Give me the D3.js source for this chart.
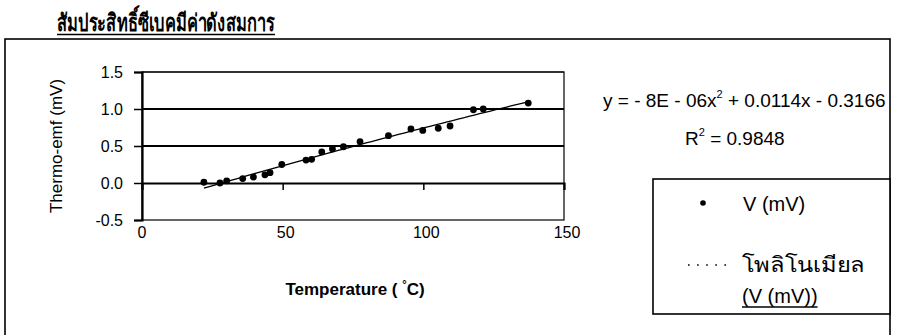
<!DOCTYPE html>
<html>
<head>
<meta charset="utf-8">
<script src="https://cdn.jsdelivr.net/npm/d3@7"></script>
<style>
  html, body { margin: 0; padding: 0; background: #fff; }
  svg { display: block; }
  text { font-family: "Liberation Sans", Arial, "Noto Sans", sans-serif; fill: #000; }
</style>
</head>
<body>
<svg id="chart" width="897" height="335"></svg>
<script>
// Measured Seebeck data: temperature (°C) and thermo-emf (mV)
const temperature = [22.0, 27.7, 30.1, 35.8, 39.6, 43.7, 45.5, 49.7, 58.3, 60.3, 63.9, 67.7, 71.6, 77.5, 87.6, 95.6, 99.8, 105.3, 109.5, 117.8, 121.3, 137.3];
const voltage     = [0.01, 0.00, 0.03, 0.06, 0.08, 0.11, 0.14, 0.25, 0.31, 0.32, 0.42, 0.46, 0.49, 0.56, 0.64, 0.73, 0.71, 0.74, 0.77, 0.99, 1.00, 1.08];

// Second-order polynomial trendline coefficients (a·x² + b·x + c) and fit quality
const fitCoefficients = [-8e-6, 0.0114, -0.3166];
const fitRSquared = 0.9848;

// Axis ticks
const xTicks = [0, 50, 100, 150];
const yTicks = [-0.5, 0.0, 0.5, 1.0, 1.5];
const gridValues = [0.5, 1.0, 1.5];

const thaiFont = "'Noto Sans Thai', 'Noto Sans', 'Liberation Sans', sans-serif";
const svg = d3.select("#chart");

// Outer frame and heading
svg.append("rect")
  .attr("x", 5).attr("y", 39).attr("width", 885).attr("height", 330)
  .attr("fill", "none").attr("stroke", "#000").attr("stroke-width", 1.6);

svg.append("text")
  .attr("x", 57).attr("y", 31)
  .attr("font-family", thaiFont)
  .attr("font-size", 24).attr("font-weight", "bold")
  .attr("textLength", 218).attr("lengthAdjust", "spacingAndGlyphs")
  .text("สัมประสิทธิ์ซีเบคมีค่าดังสมการ");
svg.append("line")
  .attr("x1", 57).attr("x2", 275)
  .attr("y1", 34.5).attr("y2", 34.5)
  .attr("stroke", "#000").attr("stroke-width", 1.6);

// Plot area
const plot = { left: 142, right: 564, top: 72, bottom: 220 };
const x = d3.scaleLinear().domain([0, 150]).range([plot.left, plot.right]);
const y = d3.scaleLinear().domain([-0.5, 1.5]).range([plot.bottom, plot.top]);

// Plot area border
svg.append("rect")
  .attr("x", plot.left).attr("y", plot.top)
  .attr("width", plot.right - plot.left).attr("height", plot.bottom - plot.top)
  .attr("fill", "none").attr("stroke", "#000").attr("stroke-width", 1.2);

// Major gridlines
svg.append("g").selectAll("line").data(gridValues).join("line")
  .attr("x1", plot.left).attr("x2", plot.right)
  .attr("y1", d => y(d)).attr("y2", d => y(d))
  .attr("stroke", "#000").attr("stroke-width", d => d === 1.5 ? 1.1 : 1.8);

// Value axis (left)
const yAxis = svg.append("g")
  .attr("transform", `translate(${plot.left},0)`)
  .call(d3.axisLeft(y).tickValues(yTicks).tickSize(8).tickPadding(11));
yAxis.select(".domain").attr("stroke-width", 2.2);
yAxis.selectAll(".tick line").attr("stroke-width", 1.5);
yAxis.selectAll(".tick text")
  .attr("font-size", 16).attr("font-family", "'Liberation Sans', Arial, sans-serif")
  .text(d => d < 0 ? "-" + Math.abs(d).toFixed(1) : d.toFixed(1));

// Category axis crossing at zero
const xAxis = svg.append("g")
  .attr("transform", `translate(0,${y(0)})`)
  .call(d3.axisBottom(x).tickValues(xTicks).tickSize(7).tickFormat(""));
xAxis.select(".domain").attr("stroke-width", 2);
xAxis.selectAll(".tick line").attr("stroke-width", 1.5);

// X tick labels at the bottom of the plot area
svg.append("g").selectAll("text").data(xTicks).join("text")
  .attr("x", d => x(d) + (d === 0 ? 0 : 3)).attr("y", 238)
  .attr("text-anchor", "middle").attr("font-size", 16)
  .text(d => d);

// Axis titles
svg.append("text")
  .attr("transform", `translate(62,${(plot.top + plot.bottom) / 2}) rotate(-90)`)
  .attr("text-anchor", "middle").attr("font-size", 17)
  .text("Thermo-emf (mV)");

const xt = svg.append("text")
  .attr("x", 355).attr("y", 295)
  .attr("text-anchor", "middle").attr("font-size", 17).attr("font-weight", "bold");
xt.append("tspan").text("Temperature ( ");
xt.append("tspan").attr("font-size", 11).attr("dy", -7).text("°");
xt.append("tspan").attr("dy", 7).text("C)");

// Polynomial trendline across the measured range
const poly = t => fitCoefficients[0] * t * t + fitCoefficients[1] * t + fitCoefficients[2];
const [tMin, tMax] = d3.extent(temperature);
const curve = d3.range(tMin, tMax + 0.001, (tMax - tMin) / 60).map(t => [t, poly(t)]);
svg.append("path")
  .datum(curve)
  .attr("fill", "none").attr("stroke", "#000").attr("stroke-width", 1.3)
  .attr("d", d3.line().x(d => x(d[0])).y(d => y(d[1])));

// Data points
svg.append("g").selectAll("circle").data(temperature).join("circle")
  .attr("cx", d => x(d)).attr("cy", (d, i) => y(voltage[i]))
  .attr("r", 3.4).attr("fill", "#000");

// Trendline equation and R²
const fmtCoef = v => Math.abs(v).toString();
const eq = svg.append("text").attr("x", 603).attr("y", 107).attr("font-size", 19);
eq.append("tspan").text("y = - 8E - 06x");
eq.append("tspan").attr("font-size", 11).attr("dy", -9).text("2");
eq.append("tspan").attr("dy", 9)
  .text(` + ${fmtCoef(fitCoefficients[1])}x - ${fmtCoef(fitCoefficients[2])}`);

const r2 = svg.append("text").attr("x", 685).attr("y", 145).attr("font-size", 19);
r2.append("tspan").text("R");
r2.append("tspan").attr("font-size", 11).attr("dy", -9).text("2");
r2.append("tspan").attr("dy", 9).text(` = ${fitRSquared}`);

// Legend
const legend = svg.append("g");
legend.append("rect")
  .attr("x", 653).attr("y", 179).attr("width", 237).attr("height", 135)
  .attr("fill", "#fff").attr("stroke", "#000").attr("stroke-width", 1.6);
legend.append("circle").attr("cx", 703).attr("cy", 203).attr("r", 2.8).attr("fill", "#000");
legend.append("text").attr("x", 743).attr("y", 211).attr("font-size", 20).text("V (mV)");
legend.append("line")
  .attr("x1", 688).attr("x2", 730).attr("y1", 265).attr("y2", 265)
  .attr("stroke", "#000").attr("stroke-width", 1.5).attr("stroke-dasharray", "1.6,7.5");
legend.append("text").attr("x", 742).attr("y", 272)
  .attr("font-family", thaiFont)
  .attr("font-size", 21)
  .attr("textLength", 123).attr("lengthAdjust", "spacingAndGlyphs")
  .text("โพลิโนเมียล");
const lbl2 = legend.append("text").attr("x", 742).attr("y", 303).attr("font-size", 20).text("(V (mV))");
const lb = lbl2.node().getBBox();
legend.append("line")
  .attr("x1", lb.x).attr("x2", lb.x + lb.width).attr("y1", 307).attr("y2", 307)
  .attr("stroke", "#000").attr("stroke-width", 1.3);
</script>
</body>
</html>
